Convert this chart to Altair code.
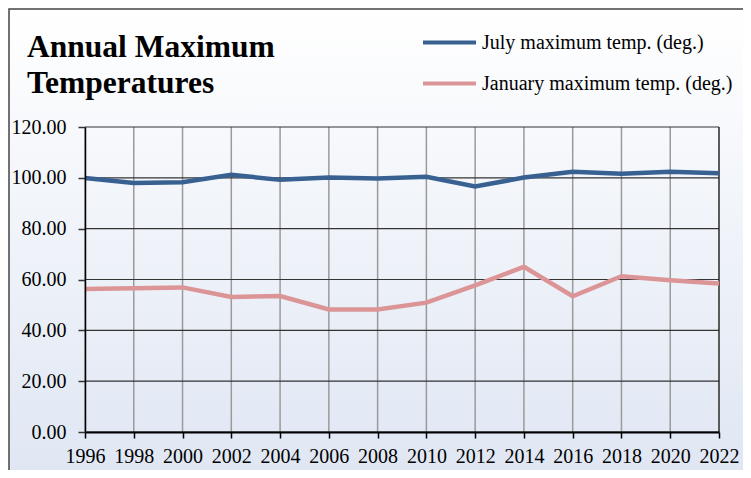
import altair as alt
import pandas as pd

years = [1996, 1998, 2000, 2002, 2004, 2006, 2008, 2010, 2012, 2014, 2016, 2018, 2020, 2022]
july = [99.9, 98.0, 98.3, 101.2, 99.2, 100.1, 99.7, 100.4, 96.6, 100.1, 102.4, 101.6, 102.4, 101.8]
january = [56.3, 56.6, 56.9, 53.1, 53.5, 48.2, 48.2, 50.9, 57.7, 65.0, 53.4, 61.3, 59.7, 58.4]
series_names = ["July maximum temp. (deg.)", "January maximum temp. (deg.)"]
series_colors = ["#386192", "#dc9596"]
y_ticks = [0, 20, 40, 60, 80, 100, 120]

rows = []
for name, vals in zip(series_names, [july, january]):
    for yr, v in zip(years, vals):
        rows.append({"year": yr, "value": v, "series": name})
df = pd.DataFrame(rows)

FONT = "Liberation Serif"
W, H = 634, 305

xscale = alt.Scale(domain=[1996, 2022], nice=False, zero=False)
yscale = alt.Scale(domain=[0, 120], nice=False)

bg = alt.Chart(pd.DataFrame({"a": [0]})).mark_rect(
    color=alt.Gradient(
        gradient="linear",
        stops=[alt.GradientStop(color="#ffffff", offset=0),
               alt.GradientStop(color="#dce4f2", offset=1)],
        x1=0, x2=0, y1=0, y2=1,
    ),
    stroke="#444444",
    strokeWidth=1.5,
).encode(
    x=alt.value(-76), x2=alt.value(700),
    y=alt.value(-118), y2=alt.value(400),
)

vgrid = alt.Chart(pd.DataFrame({"year": years})).mark_rule(
    color="#9a9a9a", strokeWidth=1.5
).encode(x=alt.X("year:Q", scale=xscale))

rgrid = alt.Chart(pd.DataFrame({"year": [years[-1]]})).mark_rule(
    color="#222222", strokeWidth=1.2
).encode(x=alt.X("year:Q", scale=xscale))

hgrid = alt.Chart(pd.DataFrame({"value": y_ticks})).mark_rule(
    color="#333333", strokeWidth=1.2
).encode(y=alt.Y("value:Q", scale=yscale))

lines = alt.Chart(df).mark_line(strokeWidth=4.5, clip=False).encode(
    x=alt.X("year:Q", scale=xscale,
            axis=alt.Axis(values=years, format="d", title=None, grid=False, zindex=1,
                          labelFont=FONT, labelFontSize=20, labelColor="black",
                          labelPadding=8, tickSize=6, tickColor="black", tickWidth=1.5,
                          domainColor="black", domainWidth=2, labelFlush=False)),
    y=alt.Y("value:Q", scale=yscale,
            axis=alt.Axis(values=y_ticks, format=".2f", title=None, grid=False, zindex=1,
                          labelFont=FONT, labelFontSize=20, labelColor="black",
                          labelPadding=12, tickSize=7, tickColor="#333333", tickWidth=1.5,
                          domainColor="black", domainWidth=1.5)),
    color=alt.Color("series:N",
                    scale=alt.Scale(domain=series_names, range=series_colors),
                    legend=alt.Legend(title=None, orient="none", legendX=336, legendY=-113,
                                      symbolType="stroke", symbolSize=2809,
                                      symbolStrokeWidth=4, labelFont=FONT,
                                      labelFontSize=20, labelColor="black",
                                      labelOffset=4, rowPadding=2, labelLimit=400)),
    order=alt.Order("year:Q"),
)

chart = alt.layer(bg, vgrid, hgrid, rgrid, lines).properties(
    width=W, height=H,
    autosize=alt.AutoSizeParams(type="none"),
    padding={"left": 77, "top": 119, "right": 24, "bottom": 38},
    title=alt.TitleParams(text=["Annual Maximum", "Temperatures"], font=FONT,
                          fontSize=31.5, fontWeight="bold", color="black",
                          anchor="start", frame="group", dx=-58, offset=-116,
                          baseline="alphabetic", lineHeight=36),
).configure_view(stroke=None).configure(background="white")

chart.save("out.html", embed_options={"renderer": "svg", "actions": False})
